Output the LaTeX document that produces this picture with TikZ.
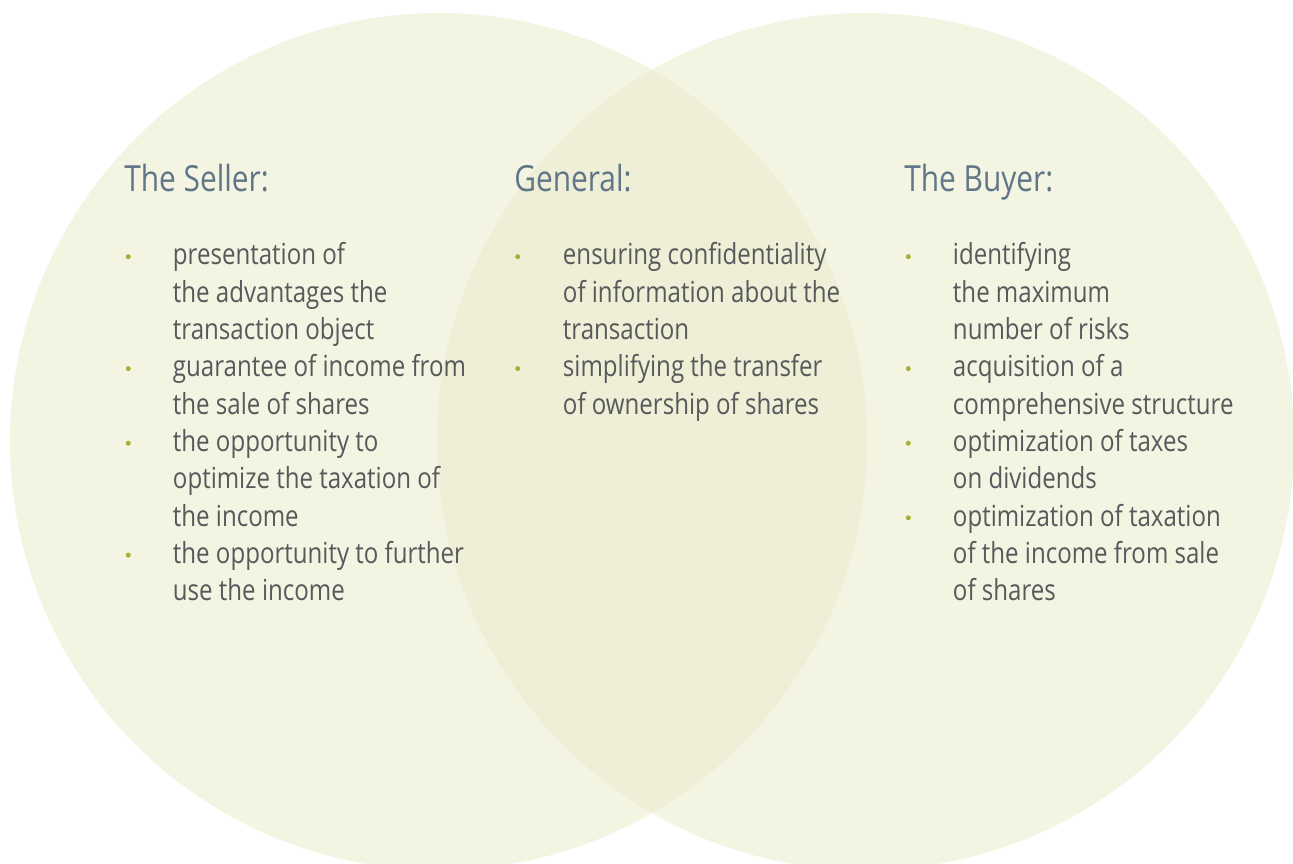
\documentclass[tikz,border=0pt]{standalone}
\usepackage{fontspec}
\setmainfont{Open Sans}[FakeStretch=0.83]
\usetikzlibrary{positioning}
\definecolor{venn}{RGB}{234,236,205}
\definecolor{headcol}{RGB}{96,117,135}
\definecolor{textcol}{RGB}{88,89,91}
\definecolor{dotcol}{RGB}{169,174,59}

\begin{document}
\begin{tikzpicture}
		[x=0.75pt, y=-0.75pt,
		disc/.style ={fill=venn, fill opacity=0.58, draw=none},
		head/.style ={anchor=base west, inner sep=0pt, text=headcol, font=\fontsize{27}{32}\selectfont},
		item/.style ={anchor=base west, inner sep=0pt, align=left, text=textcol, font=\fontsize{21.75}{28}\selectfont},
		dot/.style ={circle, fill=dotcol, inner sep=0pt, minimum size=3.75pt},
		]
		\useasboundingbox (0,0) rectangle (1293,864);

		% the two sets
		\fill[disc] (438.5,441.5) circle [radius=428.5];
		\fill[disc] (865.5,441.5) circle [radius=428.5];

		% headings
		\draw (124,191.7) node[head] (sellerhead) {The Seller:};
		\draw (514,191.7) node[head] (generalhead) {General:};
		\draw (904,191.7) node[head] (buyerhead) {The Buyer:};

		% seller (anchored on the last line)
		\draw (172.7,339.6) node[item] (s1) {presentation of\\the advantages the\\transaction object};
		\draw (172.7,414.2) node[item] (s2) {guarantee of income from\\the sale of shares};
		\draw (172.7,526.1) node[item] (s3) {the opportunity to\\optimize the taxation of\\the income};
		\draw (172.7,600.7) node[item] (s4) {the opportunity to further\\use the income};

		% general
		\draw (562.7,339.6) node[item] (g1) {ensuring confidentiality\\of information about the\\transaction};
		\draw (562.7,414.2) node[item] (g2) {simplifying the transfer\\of ownership of shares};

		% buyer
		\draw (952.7,339.6) node[item] (b1) {identifying\\the maximum\\number of risks};
		\draw (952.7,414.2) node[item] (b2) {acquisition of a\\comprehensive structure};
		\draw (952.7,488.8) node[item] (b3) {optimization of taxes\\on dividends};
		\draw (952.7,600.7) node[item] (b4) {optimization of taxation\\of the income from sale\\of shares};

		% bullets
		\foreach \x/\y/\n in {128.3/256.7/s1, 128.3/368.6/s2, 128.3/443.2/s3, 128.3/555.1/s4,
			517.7/256.7/g1, 517.7/368.6/g2,
			908.3/256.7/b1, 908.3/368.6/b2, 908.3/443.2/b3, 908.3/517.8/b4}
			\node[dot] (\n dot) at (\x,\y) {};
	\end{tikzpicture}
\end{document}
